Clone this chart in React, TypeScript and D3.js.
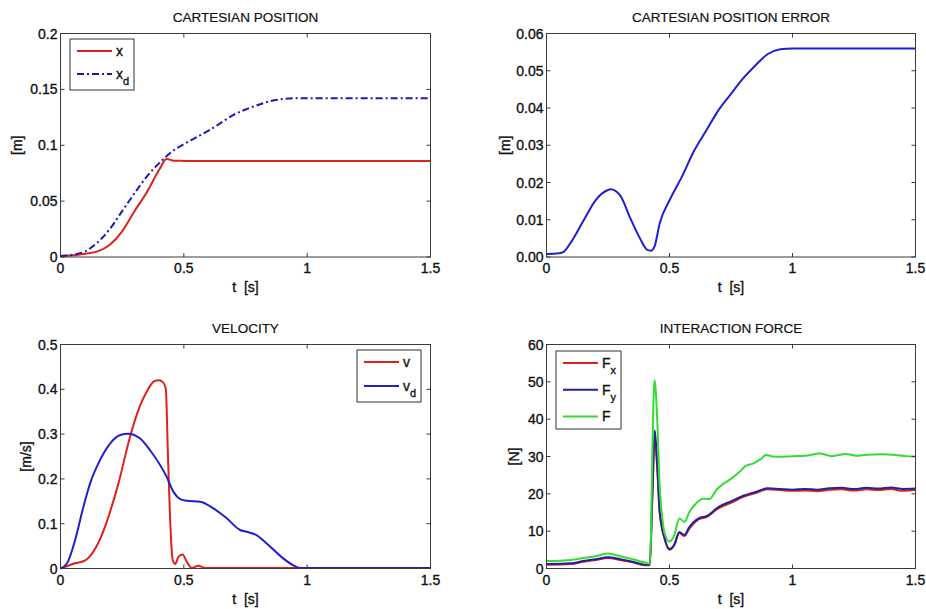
import React from "react";
import * as d3 from "d3";

// ---------- DATA ----------
const timeTicks = [0, 0.5, 1, 1.5];
const posTicks = [0, 0.05, 0.1, 0.15, 0.2];
const errTicks = [0, 0.01, 0.02, 0.03, 0.04, 0.05, 0.06];
const velTicks = [0, 0.1, 0.2, 0.3, 0.4, 0.5];
const forceTicks = [0, 10, 20, 30, 40, 50, 60];

const posX: [number, number][] = [
  [0, 0.001], [0.05, 0.0015], [0.1, 0.003], [0.15, 0.005], [0.2, 0.011], [0.25, 0.023],
  [0.3, 0.041], [0.35, 0.058], [0.4, 0.078], [0.43, 0.0877], [0.46, 0.0862], [0.5, 0.086],
  [0.55, 0.0858], [0.6, 0.086], [1.0, 0.086], [1.5, 0.086],
];
const posXd: [number, number][] = [
  [0, 0.001], [0.05, 0.002], [0.1, 0.005], [0.15, 0.013], [0.2, 0.025], [0.25, 0.041],
  [0.3, 0.057], [0.35, 0.072], [0.4, 0.084], [0.45, 0.094], [0.5, 0.101], [0.55, 0.107],
  [0.6, 0.113], [0.65, 0.12], [0.7, 0.127], [0.75, 0.132], [0.8, 0.136], [0.85, 0.1395],
  [0.9, 0.1413], [0.95, 0.142], [1.0, 0.142], [1.5, 0.142],
];
const posErr: [number, number][] = [
  [0, 0.0008], [0.05, 0.001], [0.07, 0.0014], [0.1, 0.004], [0.15, 0.0097], [0.2, 0.0153],
  [0.25, 0.018], [0.26, 0.0182], [0.3, 0.0165], [0.34, 0.0105], [0.38, 0.005], [0.41, 0.0019],
  [0.425, 0.0017], [0.44, 0.003], [0.46, 0.009], [0.5, 0.0152], [0.55, 0.0215], [0.6, 0.0285],
  [0.65, 0.034], [0.7, 0.0395], [0.75, 0.0438], [0.8, 0.048], [0.85, 0.0515], [0.9, 0.0545],
  [0.95, 0.0558], [1.0, 0.056], [1.5, 0.056],
];
const velV: [number, number][] = [
  [0, 0], [0.026, 0.005], [0.05, 0.01], [0.1, 0.018], [0.13, 0.035], [0.16, 0.065],
  [0.185, 0.1], [0.2, 0.125], [0.235, 0.19], [0.28, 0.29], [0.32, 0.36], [0.35, 0.395],
  [0.38, 0.418], [0.4, 0.42], [0.415, 0.416], [0.427, 0.4], [0.435, 0.264], [0.444, 0.115],
  [0.455, 0.019], [0.465, 0.01], [0.478, 0.026], [0.495, 0.031], [0.512, 0.015],
  [0.532, 0.001], [0.559, 0.006], [0.586, 0.001], [0.7, 0.001], [1.5, 0.001],
];
const velVd: [number, number][] = [
  [0, 0], [0.026, 0.011], [0.059, 0.063], [0.093, 0.138], [0.12, 0.19], [0.16, 0.242],
  [0.201, 0.279], [0.242, 0.298], [0.275, 0.301], [0.323, 0.29], [0.363, 0.264], [0.43, 0.205],
  [0.458, 0.171], [0.485, 0.155], [0.512, 0.151], [0.566, 0.149], [0.62, 0.134], [0.674, 0.112],
  [0.728, 0.086], [0.755, 0.082], [0.796, 0.074], [0.836, 0.056], [0.904, 0.022], [0.944, 0.007],
  [0.97, 0.001], [1.0, 0.001], [1.5, 0.001],
];
const forceFx: [number, number][] = [
  [0, 1.0], [0.1, 1.2], [0.15, 1.8], [0.2, 2.3], [0.25, 2.8], [0.3, 2.3], [0.35, 1.7], [0.4, 0.9],
  [0.42, 0.9], [0.43, 18], [0.44, 35], [0.45, 27], [0.46, 15], [0.48, 8], [0.5, 5.0],
  [0.52, 6.3], [0.54, 9.5], [0.56, 8.7], [0.58, 10.6], [0.6, 12.2], [0.62, 13.2], [0.65, 13.8],
  [0.7, 16.2], [0.75, 17.6], [0.8, 19.2], [0.85, 20.2], [0.9, 21.2], [0.95, 21.0], [1.0, 20.8],
  [1.05, 20.9], [1.1, 20.7], [1.15, 21.1], [1.2, 21.2], [1.25, 20.9], [1.3, 21.2], [1.35, 21.0],
  [1.4, 21.3], [1.45, 20.8], [1.5, 21.0],
];
const forceFy: [number, number][] = [
  [0, 1.2], [0.1, 1.4], [0.15, 2.0], [0.2, 2.5], [0.25, 3.0], [0.3, 2.5], [0.35, 1.8], [0.4, 1.0],
  [0.42, 1.0], [0.43, 20], [0.44, 37], [0.45, 28], [0.46, 15.5], [0.48, 8.2], [0.5, 5.2],
  [0.52, 6.5], [0.54, 9.8], [0.56, 9.0], [0.58, 11.0], [0.6, 12.5], [0.62, 13.5], [0.65, 14.0],
  [0.7, 16.5], [0.75, 18.0], [0.8, 19.5], [0.85, 20.5], [0.9, 21.5], [0.95, 21.3], [1.0, 21.1],
  [1.05, 21.3], [1.1, 21.1], [1.15, 21.5], [1.2, 21.6], [1.25, 21.3], [1.3, 21.6], [1.35, 21.4],
  [1.4, 21.7], [1.45, 21.3], [1.5, 21.4],
];
const forceF: [number, number][] = [
  [0, 2.0], [0.1, 2.3], [0.15, 2.8], [0.2, 3.3], [0.25, 4.0], [0.3, 3.3], [0.35, 2.5], [0.4, 1.6],
  [0.42, 1.3], [0.425, 10], [0.43, 30], [0.439, 50.5], [0.45, 40], [0.46, 22], [0.47, 14],
  [0.48, 9.5], [0.5, 7.2], [0.52, 9], [0.54, 13.4], [0.561, 12.5], [0.58, 15], [0.608, 17.4],
  [0.636, 18.7], [0.663, 18.6], [0.69, 21], [0.717, 22.6], [0.75, 24], [0.785, 25.9],
  [0.81, 27.5], [0.839, 28.1], [0.87, 29.3], [0.893, 30.4], [0.92, 30.0], [0.947, 29.9],
  [1.0, 30.1], [1.05, 30.2], [1.11, 30.8], [1.16, 30.1], [1.218, 30.7], [1.26, 30.2],
  [1.3, 30.5], [1.367, 30.6], [1.42, 30.4], [1.46, 30.1], [1.5, 30.0],
];

// ---------- CHART ----------
const FONT = "'Liberation Sans', Arial, Helvetica, sans-serif";
const TXT = { fontFamily: FONT, fill: "#111", stroke: "#111", strokeWidth: 0.35 };

type Series = { data: [number, number][]; color: string; dash?: string; label: string; sub?: string };
type PanelProps = {
  x0: number; x1: number; y0: number; y1: number;
  yMax: number; yTicks: number[]; yFmt: (v: number) => string;
  title: string; yLabel: string; yLabelX: number;
  series: Series[];
  legend?: { x: number; y: number; w: number; h: number; rowGap: number };
};

function Panel(p: PanelProps) {
  const xs = d3.scaleLinear().domain([0, 1.5]).range([p.x0, p.x1]);
  const ys = d3.scaleLinear().domain([0, p.yMax]).range([p.y1, p.y0]);
  const line = d3.line<[number, number]>().x((d) => xs(d[0])).y((d) => ys(d[1])).curve(d3.curveMonotoneX);
  const tl = 4;
  const cx = (p.x0 + p.x1) / 2;
  return (
    <g>
      <rect x={p.x0} y={p.y0} width={p.x1 - p.x0} height={p.y1 - p.y0} fill="#fff" />
      {p.series.map((s, i) => (
        <path key={i} d={line(s.data) || ""} fill="none" stroke={s.color} strokeWidth={2} strokeDasharray={s.dash} />
      ))}
      <rect x={p.x0} y={p.y0} width={p.x1 - p.x0} height={p.y1 - p.y0} fill="none" stroke="#3a3a3a" strokeWidth={1} />
      {timeTicks.map((t) => (
        <g key={"x" + t}>
          <line x1={xs(t)} x2={xs(t)} y1={p.y1} y2={p.y1 - tl} stroke="#3a3a3a" />
          <line x1={xs(t)} x2={xs(t)} y1={p.y0} y2={p.y0 + tl} stroke="#3a3a3a" />
          <text x={xs(t)} y={p.y1 + 16} textAnchor="middle" fontSize={14} {...TXT}>{String(t)}</text>
        </g>
      ))}
      {p.yTicks.map((v) => (
        <g key={"y" + v}>
          <line x1={p.x0} x2={p.x0 + tl} y1={ys(v)} y2={ys(v)} stroke="#3a3a3a" />
          <line x1={p.x1} x2={p.x1 - tl} y1={ys(v)} y2={ys(v)} stroke="#3a3a3a" />
          <text x={p.x0 - 3} y={ys(v) + 5} textAnchor="end" fontSize={14} {...TXT}>{p.yFmt(v)}</text>
        </g>
      ))}
      <text x={cx} y={p.y0 - 12} textAnchor="middle" fontSize={13.5} {...TXT} strokeWidth={0.2}>{p.title}</text>
      <text x={cx} y={p.y1 + 35} textAnchor="middle" fontSize={14} {...TXT}>{"t\u00a0\u00a0[s]"}</text>
      <text transform={`translate(${p.yLabelX},${(p.y0 + p.y1) / 2}) rotate(-90)`} textAnchor="middle" dy={5} fontSize={14} {...TXT}>{p.yLabel}</text>
      {p.legend && (
        <g>
          <rect x={p.legend.x} y={p.legend.y} width={p.legend.w} height={p.legend.h} fill="#fff" stroke="#333" />
          {p.series.map((s, i) => {
            const ly = p.legend!.y + 12 + i * p.legend!.rowGap;
            return (
              <g key={"l" + i}>
                <line x1={p.legend!.x + 7} x2={p.legend!.x + 42} y1={ly} y2={ly} stroke={s.color} strokeWidth={2} strokeDasharray={s.dash} />
                <text x={p.legend!.x + 46} y={ly + 5} fontSize={14} {...TXT}>
                  {s.label}
                  {s.sub && <tspan dy={6} fontSize={11}>{s.sub}</tspan>}
                </text>
              </g>
            );
          })}
        </g>
      )}
    </g>
  );
}

export default function App() {
  const red = "#e0201c";
  const blue = "#1f1fd0";
  return (
    <svg width={926} height={609} style={{ position: "absolute", left: 0, top: 0, background: "#fff" }}>
      <rect x={0} y={0} width={926} height={609} fill="#fff" />
      <Panel x0={60.5} x1={430.5} y0={33.5} y1={257} yMax={0.2} yTicks={posTicks} yFmt={(v) => String(+v.toFixed(2))}
        title="CARTESIAN POSITION" yLabel="[m]" yLabelX={17}
        series={[
          { data: posX, color: red, label: "x" },
          { data: posXd, color: "#1a1ab8", dash: "7,3,2,3", label: "x", sub: "d" },
        ]}
        legend={{ x: 70, y: 39, w: 64, h: 51, rowGap: 23 }} />
      <Panel x0={546.5} x1={915.5} y0={33.5} y1={257} yMax={0.06} yTicks={errTicks} yFmt={(v) => v.toFixed(2)}
        title="CARTESIAN POSITION ERROR" yLabel="[m]" yLabelX={505}
        series={[{ data: posErr, color: blue, label: "e" }]} />
      <Panel x0={60.5} x1={430.5} y0={344.5} y1={568.5} yMax={0.5} yTicks={velTicks} yFmt={(v) => String(+v.toFixed(1))}
        title="VELOCITY" yLabel="[m/s]" yLabelX={26}
        series={[
          { data: velV, color: red, label: "v" },
          { data: velVd, color: blue, label: "v", sub: "d" },
        ]}
        legend={{ x: 357, y: 350, w: 64, h: 52, rowGap: 24 }} />
      <Panel x0={546.5} x1={915.5} y0={344.5} y1={568.5} yMax={60} yTicks={forceTicks} yFmt={(v) => String(v)}
        title="INTERACTION FORCE" yLabel="[N]" yLabelX={514}
        series={[
          { data: forceFx, color: red, label: "F", sub: "x" },
          { data: forceFy, color: "#22229a", label: "F", sub: "y" },
          { data: forceF, color: "#33dd33", label: "F" },
        ]}
        legend={{ x: 556, y: 351, w: 65, h: 78, rowGap: 26.7 }} />
    </svg>
  );
}
